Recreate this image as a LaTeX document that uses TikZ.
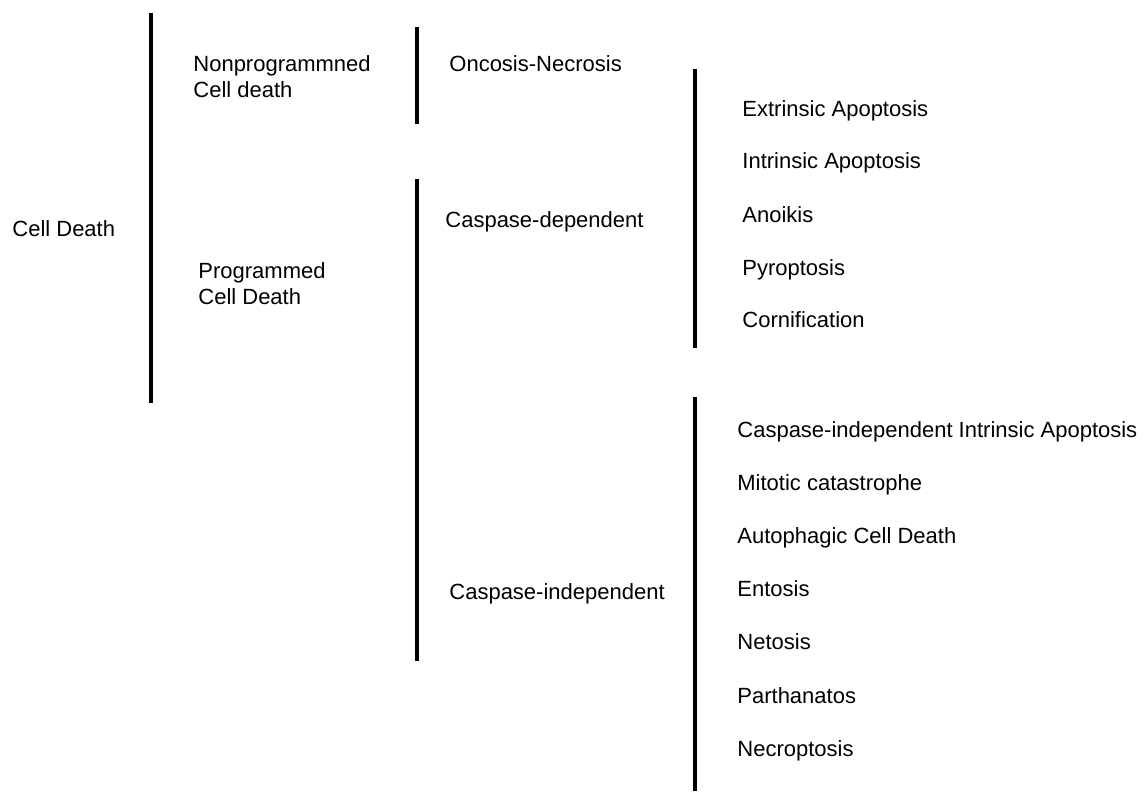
\documentclass[tikz,border=0pt]{standalone}
\usepackage{fontspec}
\setmainfont{Liberation Sans}

\begin{document}
\begin{tikzpicture}[x=0.5pt,y=-0.5pt]
    \tikzset{
        lbl/.style={anchor=base west, inner sep=0pt, align=left, font=\fontsize{11}{13}\selectfont},
        bar/.style={line width=2pt}
    }
    \useasboundingbox (0,0) rectangle (1143,791);
    \def\xa{151}
    \def\xb{417}
    \def\xc{695}
    % first split
    \draw[bar] (\xa,13) -- (\xa,403);
    \node[lbl] (death) at (12,236) {Cell Death};
    \node[lbl] (nonprog) at (193,98) {Nonprogrammned\\Cell death}; % base = last line
    \node[lbl] (prog) at (198,304) {Programmed\\Cell Death};

    % second split
    \draw[bar] (\xb,27) -- (\xb,124);
    \draw[bar] (\xb,179) -- (\xb,661);
    \node[lbl] (oncosis) at (449,72) {Oncosis-Necrosis};
    \node[lbl] (casdep) at (445,227) {Caspase-dependent};
    \node[lbl] (casind) at (449,599) {Caspase-independent};

    % caspase-dependent forms
    \draw[bar] (\xc,69) -- (\xc,348);
    \node[lbl] (extr) at (742,117) {Extrinsic Apoptosis};
    \node[lbl] (intr) at (742,169) {Intrinsic Apoptosis};
    \node[lbl] (anoi) at (742,222) {Anoikis};
    \node[lbl] (pyro) at (742,275) {Pyroptosis};
    \node[lbl] (corn) at (742,327) {Cornification};

    % caspase-independent forms
    \draw[bar] (\xc,397) -- (\xc,791);
    \node[lbl] (ciia) at (737,437) {Caspase-independent Intrinsic Apoptosis};
    \node[lbl] (mito) at (737,490) {Mitotic catastrophe};
    \node[lbl] (auto) at (737,543) {Autophagic Cell Death};
    \node[lbl] (ento) at (737,596) {Entosis};
    \node[lbl] (neto) at (737,649) {Netosis};
    \node[lbl] (part) at (737,703) {Parthanatos};
    \node[lbl] (necr) at (737,756) {Necroptosis};
\end{tikzpicture}
\end{document}
